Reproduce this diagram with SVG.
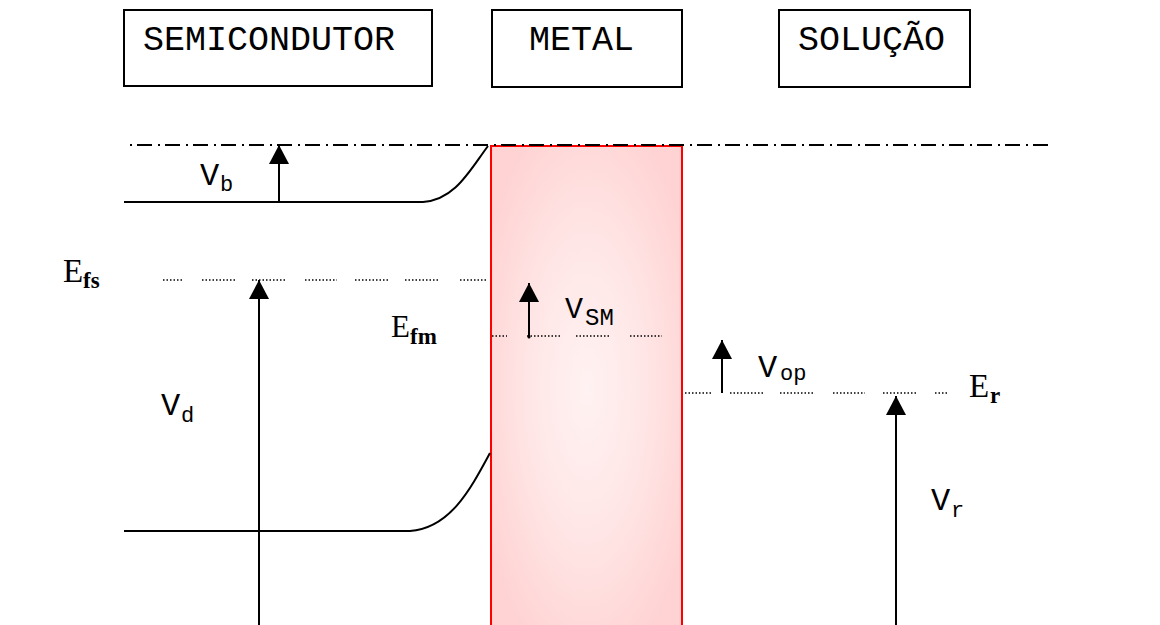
<svg xmlns="http://www.w3.org/2000/svg" width="1160" height="625" viewBox="0 0 1160 625">
<defs>
<style>
.box{fill:#fff;stroke:#000;stroke-width:2}
.ttl{font-family:"Courier New","Liberation Mono",monospace;font-size:35px;fill:#000}
.v{font-family:"Courier New","Liberation Mono",monospace;font-size:32px;fill:#000}
.vs{font-family:"Courier New","Liberation Mono",monospace;font-size:22px;fill:#000}
.e{font-family:"Liberation Serif","Times New Roman",serif;font-size:33px;fill:#000}
.es{font-family:"Liberation Serif","Times New Roman",serif;font-size:23px;font-weight:bold;fill:#000}
.band{fill:none;stroke:#000;stroke-width:2}
.dot{fill:none;stroke:#000;stroke-width:1.5;stroke-dasharray:1.5 2}
.dd{fill:none;stroke:#000;stroke-width:2;stroke-dasharray:2 5 15 6}
.arr{fill:none;stroke:#000;stroke-width:2;marker-end:url(#ah)}
</style>
<marker id="ah" markerUnits="userSpaceOnUse" markerWidth="20" markerHeight="20" viewBox="0 0 18 18" refX="17" refY="9" orient="auto">
<path d="M0,0 L17,9 L0,18 Z" fill="#000"/>
</marker>
<radialGradient id="mg" cx="0.5" cy="0.5" r="0.6">
<stop offset="0" stop-color="#fff2f2"/>
<stop offset="0.5" stop-color="#ffe6e6"/>
<stop offset="1" stop-color="#ffd3d3"/>
</radialGradient>
</defs>
<rect width="1160" height="625" fill="#fff"/>

<g id="semicondutor">
<rect class="box" x="124" y="10" width="308" height="76"/>
<text class="ttl" x="143" y="50">SEMICONDUTOR</text>
</g>
<g id="metal-label">
<rect class="box" x="492" y="10" width="190" height="77"/>
<text class="ttl" x="529" y="50">METAL</text>
</g>
<g id="solucao">
<rect class="box" x="779" y="10" width="191" height="77"/>
<text class="ttl" x="798" y="50">SOLUÇÃO</text>
</g>

<g id="metal">
<rect x="491" y="146" width="191" height="485" fill="url(#mg)" stroke="#ff0000" stroke-width="2"/>
</g>

<g id="connectors">
<path class="dd" d="M130,145 H1050"/>
<path class="band" d="M124,202 H423 C455,200 470,170 488,146"/>
<path class="band" d="M124,531 H410 C450,528 470,490 490,453"/>
<path class="dot" d="M163,280H183 M202,280H237 M252,280H287 M305,280H337 M355,280H390 M405,280H440 M460,280H487"/>
<path class="dot" d="M492,336H507 M527,336H562 M576,336H610 M630,336H662"/>
<path class="dot" d="M685,393H712 M730,393H765 M780,393H815 M833,393H865 M883,393H918 M935,393H948"/>
<line class="arr" x1="279" y1="202" x2="279" y2="145"/>
<line class="arr" x1="259" y1="625" x2="259" y2="280"/>
<line class="arr" x1="529" y1="337" x2="529" y2="283"/>
<circle cx="529" cy="337" r="1.5" fill="#000"/>
<line class="arr" x1="722" y1="393" x2="722" y2="340"/>
<line class="arr" x1="896" y1="625" x2="896" y2="396"/>
</g>

<g id="labels">
<text class="v" x="200" y="185">V<tspan class="vs" x="220" y="191">b</tspan></text>
<text class="v" x="161" y="415">V<tspan class="vs" x="181" y="422">d</tspan></text>
<text class="v" x="565" y="318" style="font-size:30px">V<tspan class="vs" x="585" y="325" style="font-size:24px">SM</tspan></text>
<text class="v" x="758" y="377">V<tspan class="vs" x="780" y="380">op</tspan></text>
<text class="v" x="931" y="510">V<tspan class="vs" x="951" y="517">r</tspan></text>
<text class="e" x="63" y="282">E<tspan class="es" x="83" y="288">fs</tspan></text>
<text class="e" x="391" y="337" style="font-size:31px">E<tspan class="es" x="410" y="344">fm</tspan></text>
<text class="e" x="969" y="397">E<tspan class="es" x="990" y="403">r</tspan></text>
</g>
</svg>
